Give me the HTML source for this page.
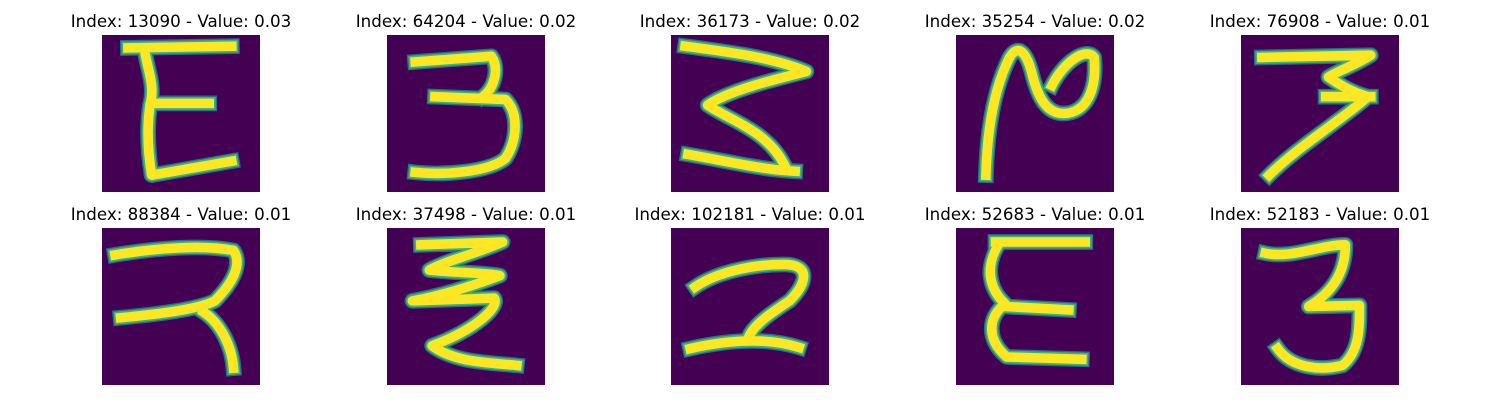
<!DOCTYPE html>
<html><head><meta charset="utf-8"><style>
body{margin:0;background:#fff;width:1500px;height:400px;overflow:hidden;font-family:"DejaVu Sans","Liberation Sans",sans-serif}
</style></head><body>
<svg id="fig" width="1500" height="400" xmlns="http://www.w3.org/2000/svg"></svg>
<script>
const indices=[13090,64204,36173,35254,76908,88384,37498,102181,52683,52183];
const values=["0.03","0.02","0.02","0.02","0.01","0.01","0.01","0.01","0.01","0.01"];
const glyphs=[
"M4.6 2.3 L23 2 M7.5 2.5 C8 6, 9.5 9, 8.5 12.5 C8 16, 8 20, 8.8 25 L23 22.5 M9 12.2 L19 12.2",
"M5 4.8 L18.5 3.8 C20 6, 19 9.5, 17 11 M8.5 11 L21 11.5 C23.5 14, 23 19, 21 22 C18 24.5, 10 25, 5 24.5",
"M2.5 2 C10 3, 18 4, 24 6.5 C18 8, 10 10, 6.5 12.5 C10 15, 17 17, 20 23 M3 21.3 C10 22.5, 16 24, 22 24.3",
"M5.3 25 C5.5 18, 6.5 10, 9.5 4 C11 1.5, 12.5 3, 13.5 7 C14.5 11, 16 14, 19 14 C23 14, 25 10, 24.5 4 C23 2, 19 5, 17 9",
"M3.7 4 L23 3.6 C20 5.5, 17 6.5, 15.5 7.5 C17 8.5, 19 10, 22.5 11 C18 15, 10 20, 5 25 M15 11 L23 11",
"M2.3 4.8 C10 3.5, 18 3, 23.3 4 C25 6.5, 23 10, 20 13 C18 14, 14 15, 3.3 16 M18 15 C21 17, 23 21, 23.3 25",
"M6 3 L20.5 2.5 C16 4.5, 10 6, 7.5 7.5 C12 8, 18 8, 20 8.5 C16 10, 10 12, 4.5 13 L19 12.5 C20 14, 16 18, 8 21 C12 24, 18 24, 23 24.5",
"M4.3 10.5 C8 8, 14 6.5, 20 6.5 C25 6.5, 24 10, 21 13 C18 15, 15 17, 14 19 M3.4 21.5 C10 20, 17 19.5, 22.7 21.3",
"M7 2.5 L22.9 2.5 M7.5 3 C5 7, 6 11, 8.7 13.5 C5.5 16, 5.5 20, 9 23 L22.3 23.4 M8.7 14 L20 14.6",
"M4.3 4.5 C9 5.5, 14 3, 18.5 3 C18.5 7, 17 11, 12 14 L21 13.8 C21 18, 21 22, 18 24.5 C14 25.5, 9 25, 6.5 21.5"
];
const NS="http://www.w3.org/2000/svg";
const svg=document.getElementById('fig');
const colX=[102,387,671,956,1241], rowY=[35,228], W=158, H=157;
for(let i=0;i<10;i++){
  const x=colX[i%5], y=rowY[Math.floor(i/5)];
  const g=document.createElementNS(NS,'g');
  
  
  const t=document.createElementNS(NS,'text');
  
  
  t.setAttribute('x',x+W/2);t.setAttribute('y',y-8);
  t.setAttribute('text-anchor','middle');t.setAttribute('font-size','16.7');
  t.setAttribute('font-family','DejaVu Sans, Liberation Sans, sans-serif');
  t.textContent='Index: '+indices[i]+' - Value: '+values[i];
  g.appendChild(t);
  const inner=document.createElementNS(NS,'svg');
  inner.setAttribute('x',x);inner.setAttribute('y',y);inner.setAttribute('width',W);inner.setAttribute('height',H);
  inner.setAttribute('viewBox','0 0 28 28');inner.setAttribute('preserveAspectRatio','none');
  const bg=document.createElementNS(NS,'rect');
  
  
  bg.setAttribute('width',28);bg.setAttribute('height',28);bg.setAttribute('fill','#440154');
  inner.appendChild(bg);
  [['#31688e',2.8],['#35b779',2.3],['#fde725',1.7]].forEach(([c,w])=>{
    const p=document.createElementNS(NS,'path');
    
    
    p.setAttribute('d',glyphs[i]);p.setAttribute('fill','none');
    p.setAttribute('stroke',c);p.setAttribute('stroke-width',w);
    p.setAttribute('stroke-linecap','square');p.setAttribute('stroke-linejoin','round');
    inner.appendChild(p);
  });
  g.appendChild(inner);
  svg.appendChild(g);
}
</script>
</body></html>
